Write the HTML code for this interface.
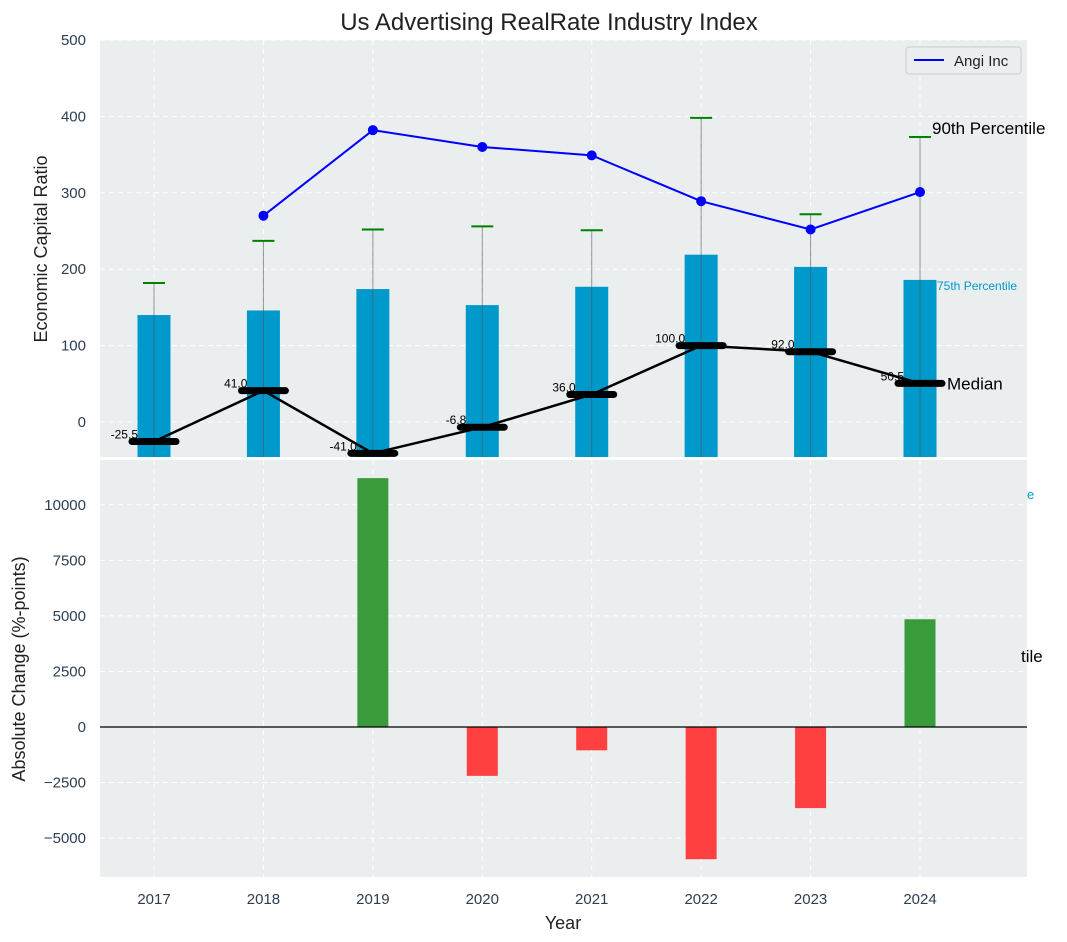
<!DOCTYPE html>
<html><head><meta charset="utf-8"><style>
body{margin:0;background:#fff;}
svg{display:block;font-family:"Liberation Sans","DejaVu Sans",sans-serif;}
</style></head><body>
<svg id="chart" width="1067" height="942" viewBox="0 0 1067 942">
<defs>
<clipPath id="ct"><rect x="100" y="40" width="927" height="417"/></clipPath>
<clipPath id="cb"><rect x="100" y="460" width="927" height="417"/></clipPath>
</defs>
<rect x="100" y="40" width="927" height="417" fill="#eaeeee"/>
<rect x="100" y="460" width="927" height="417" fill="#eaeeee"/>
<g id="grid"></g>
<g id="top" clip-path="url(#ct)"></g>
<g id="topText"></g>
<g id="bot" clip-path="url(#cb)"></g>
<g id="axes"></g>
<text x="549" y="30" text-anchor="middle" font-size="24" fill="#222">Us Advertising RealRate Industry Index</text>
<text transform="translate(47,249) rotate(-90)" text-anchor="middle" font-size="18" fill="#222">Economic Capital Ratio</text>
<text transform="translate(25,669) rotate(-90)" text-anchor="middle" font-size="18" fill="#222">Absolute Change (%-points)</text>
<text x="563" y="929" text-anchor="middle" font-size="18" fill="#222">Year</text>
<g>
<rect x="906" y="47" width="115" height="27" rx="3" fill="#eaeeee" stroke="#ccc"/>
<line x1="914" y1="60" x2="944" y2="60" stroke="#0000ff" stroke-width="2"/>
<text x="954" y="66" font-size="15" fill="#222">Angi Inc</text>
</g>
<text x="1027" y="499" font-size="13" fill="#0099cc">e</text>
<text x="1021" y="662" font-size="17" fill="#000">tile</text>
</svg>
<script>
const years=[2017,2018,2019,2020,2021,2022,2023,2024];
const p75=[140,146,174,153,177,219,203,186];
const p90=[182,237,252,256,251,398,272,373];
const medians=[-25.5,41,-41,-6.8,36,100,92,50.5];
const angiYears=[2018,2019,2020,2021,2022,2023,2024];
const angiVals=[270,382,360,349,289,252,301];
const changes=[0,0,11200,-2200,-1050,-5950,-3650,4850];
const topTicks=[0,100,200,300,400,500];
const botTicks=[-5000,-2500,0,2500,5000,7500,10000];
const NS="http://www.w3.org/2000/svg";
const X=y=>154+(y-2017)*109.43;
const YT=v=>422-v*0.764;
const YB=v=>727-v*0.02222;
function mk(parent,tag,attrs,text){const e=document.createElementNS(NS,tag);for(const k in attrs)e.setAttribute(k,attrs[k]);if(text!==undefined)e.textContent=text;document.getElementById(parent).appendChild(e);return e;}
years.forEach(y=>{
 let g=mk('grid','line',{x1:X(y),x2:X(y),y1:40,y2:457,stroke:'#fff','stroke-dasharray':'5,4','stroke-width':1});
 
 
 g=mk('grid','line',{x1:X(y),x2:X(y),y1:460,y2:877,stroke:'#fff','stroke-dasharray':'5,4','stroke-width':1});
 
 
 const t=mk('axes','text',{x:X(y),y:904,'text-anchor':'middle','font-size':15,fill:'#2c3e50'},y);
 
 
});
topTicks.forEach(v=>{
 const g=mk('grid','line',{x1:100,x2:1027,y1:YT(v),y2:YT(v),stroke:'#fff','stroke-dasharray':'5,4'});
 
 
 const t=mk('axes','text',{x:86,y:YT(v)+5,'text-anchor':'end','font-size':15,fill:'#2c3e50'},v);
 
 
});
botTicks.forEach(v=>{
 const g=mk('grid','line',{x1:100,x2:1027,y1:YB(v),y2:YB(v),stroke:'#fff','stroke-dasharray':'5,4'});
 
 
 const t=mk('axes','text',{x:86,y:YB(v)+5,'text-anchor':'end','font-size':15,fill:'#2c3e50'},v<0?'\u2212'+Math.abs(v):v);
 
 
});
years.forEach((y,i)=>{
 const b=mk('top','rect',{x:X(y)-16.5,y:YT(p75[i]),width:33,height:470-YT(p75[i]),fill:'#0099cc'});
 
 
 const w=mk('top','line',{x1:X(y),x2:X(y),y1:YT(p90[i]),y2:470,stroke:'#555','stroke-opacity':0.6,'stroke-width':1});
 
 
 const c=mk('top','line',{x1:X(y)-11,x2:X(y)+11,y1:YT(p90[i]),y2:YT(p90[i]),stroke:'#008000','stroke-width':2});
 
 
});
const ap=mk('top','polyline',{points:angiYears.map((y,i)=>X(y)+','+YT(angiVals[i])).join(' '),fill:'none',stroke:'#0000ff','stroke-width':2});


angiYears.forEach((y,i)=>{
 const p=mk('top','circle',{cx:X(y),cy:YT(angiVals[i]),r:5,fill:'#0000ff'});
 
 
});
const ml=mk('top','polyline',{points:years.map((y,i)=>X(y)+','+YT(medians[i])).join(' '),fill:'none',stroke:'#000','stroke-width':2.5});


years.forEach((y,i)=>{
 const m=mk('top','line',{x1:X(y)-22,x2:X(y)+22,y1:YT(medians[i]),y2:YT(medians[i]),stroke:'#000','stroke-width':7,'stroke-linecap':'round'});
 
 
 const t=mk('topText','text',{x:X(y)-16,y:YT(medians[i])-3,'text-anchor':'end','font-size':12,fill:'#000'},medians[i].toFixed(1));
 
 
});
const L=years.length-1;
let t=mk('topText','text',{x:X(years[L])+12,y:YT(p90[L])-3,'font-size':17,fill:'#000'},'90th Percentile');


t=mk('topText','text',{x:X(years[L])+17,y:YT(p75[L])+10,'font-size':12,fill:'#0099cc'},'75th Percentile');


t=mk('topText','text',{x:X(years[L])+27,y:YT(medians[L])+6,'font-size':17,fill:'#000'},'Median');


years.forEach((y,i)=>{
 const v=changes[i]; if(!v) return;
 const y0=YB(0),y1=YB(v);
 const b=mk('bot','rect',{x:X(y)-15.5,y:Math.min(y0,y1),width:31,height:Math.abs(y1-y0),fill:v>0?'#3a9b3c':'#ff4040'});
 
 
});
const z=mk('bot','line',{x1:100,x2:1027,y1:YB(0),y2:YB(0),stroke:'#000','stroke-width':1.2});


</script>
</body></html>
